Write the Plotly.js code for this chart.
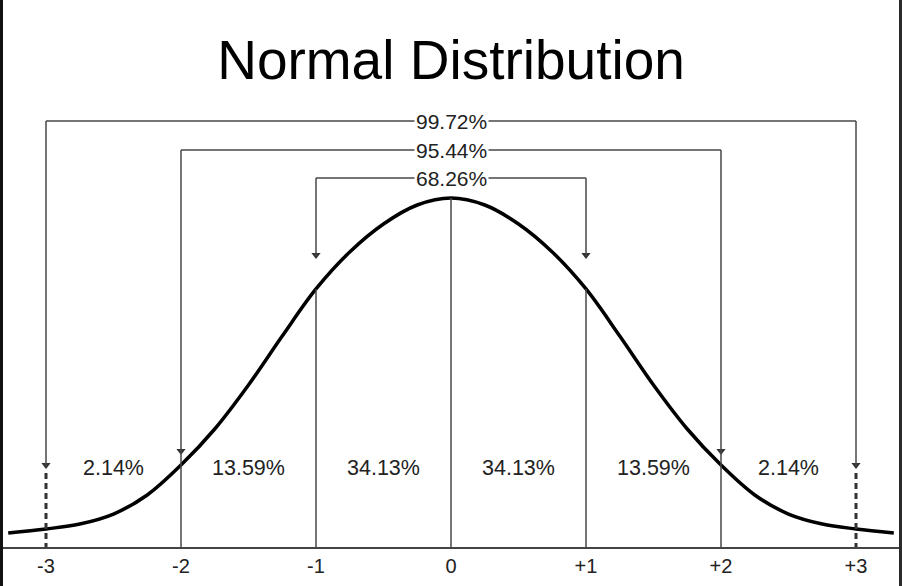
<!DOCTYPE html>
<html>
<head>
<meta charset="utf-8">
<script src="https://cdn.plot.ly/plotly-3.0.1.min.js"></script>
<style>html,body{margin:0;padding:0;background:#fff;}#chart{width:902px;height:586px;}</style>
</head>
<body>
<div id="chart"></div>
<script>
// ---- data ----
const sigmaTicks = [-3, -2, -1, 0, 1, 2, 3];
const tickLabels = ['-3', '-2', '-1', '0', '+1', '+2', '+3'];
const curveX = [-3.28, -3.0, -2.75, -2.5, -2.25, -2.0, -1.75, -1.5, -1.25, -1.0, -0.75, -0.5, -0.25, 0,
                0.25, 0.5, 0.75, 1.0, 1.25, 1.5, 1.75, 2.0, 2.25, 2.5, 2.75, 3.0, 3.28];
const curveY = [0.0160, 0.0206, 0.0263, 0.0377, 0.0595, 0.0937, 0.1349, 0.1852, 0.2412, 0.2950, 0.3373, 0.3693, 0.3910, 0.3990,
                0.3910, 0.3693, 0.3373, 0.2950, 0.2412, 0.1852, 0.1349, 0.0937, 0.0595, 0.0377, 0.0263, 0.0206, 0.0160];
const regionCenters = [-2.5, -1.5, -0.5, 0.5, 1.5, 2.5];
const regionLabels = ['2.14%', '13.59%', '34.13%', '34.13%', '13.59%', '2.14%'];
const bracketSpans = [1, 2, 3];
const bracketLabels = ['68.26%', '95.44%', '99.72%'];

// ---- layout helpers ----
const PLOT_H = 547;              // pixel height of plot area
const K = 0.399 / 349;           // data units per pixel
const yPx = p => (PLOT_H - p) * K;   // pixel row -> data y
const XMAX = 451 / 135;
const FONT = 'Liberation Sans, Arial, sans-serif';

function curveAt(x) {
  for (let i = 0; i < curveX.length - 1; i++) {
    if (x >= curveX[i] && x <= curveX[i + 1]) {
      const t = (x - curveX[i]) / (curveX[i + 1] - curveX[i]);
      return curveY[i] + t * (curveY[i + 1] - curveY[i]);
    }
  }
  return 0;
}

const bracketRow = {1: 178, 2: 150, 3: 121};
const tipRow = {1: 259, 2: 455, 3: 469};
const lineCol = '#474747';

const shapes = [];
const tipsX = [], tipsY = [];
bracketSpans.forEach(s => {
  const yb = yPx(bracketRow[s]);
  shapes.push({type: 'line', xref: 'x', yref: 'y', x0: -s, x1: s, y0: yb, y1: yb,
    line: {color: lineCol, width: 1.5}});
  [-s, s].forEach(x => {
    const yEnd = (s === 2) ? 0 : yPx(tipRow[s] - 3);
    shapes.push({type: 'line', xref: 'x', yref: 'y', x0: x, x1: x, y0: yb, y1: yEnd,
      line: {color: lineCol, width: 1.5}});
    tipsX.push(x); tipsY.push(yPx(tipRow[s] - 4));
  });
});
[-1, 0, 1].forEach(x => {
  shapes.push({type: 'line', xref: 'x', yref: 'y', x0: x, x1: x, y0: curveAt(x), y1: 0,
    line: {color: lineCol, width: 1.5}});
});
[-3, 3].forEach(x => {
  shapes.push({type: 'line', xref: 'x', yref: 'y', x0: x, x1: x, y0: yPx(473), y1: 0,
    line: {color: '#333', width: 3, dash: '6px,4px'}});
});
shapes.push({type: 'rect', xref: 'paper', yref: 'paper', x0: 0, x1: 3 / 902, y0: -39 / 547, y1: 1,
  fillcolor: '#111', line: {width: 0}});
shapes.push({type: 'rect', xref: 'paper', yref: 'paper', x0: 899 / 902, x1: 1, y0: -39 / 547, y1: 1,
  fillcolor: '#2a2a2a', line: {width: 0}});

const annotations = [];
regionCenters.forEach((c, i) => {
  annotations.push({x: c, y: yPx(468), xref: 'x', yref: 'y', text: regionLabels[i], showarrow: false,
    font: {family: FONT, size: 21.5, color: '#222'}});
});
bracketSpans.forEach((s, i) => {
  annotations.push({x: 0, y: yPx(bracketRow[s]), xref: 'x', yref: 'y', text: bracketLabels[i], showarrow: false,
    bgcolor: '#fff', borderpad: 1,
    font: {family: FONT, size: 21, color: '#222'}});
});

const traces = [
  {x: curveX, y: curveY, type: 'scatter', mode: 'lines', line: {color: '#000', width: 3.5, shape: 'spline', smoothing: 1},
   hoverinfo: 'skip'},
  {x: tipsX, y: tipsY, type: 'scatter', mode: 'markers', marker: {symbol: 'triangle-down', size: 8, color: '#333'},
   hoverinfo: 'skip'}
];

const layout = {
  width: 902, height: 586,
  margin: {l: 0, r: 0, t: 0, b: 39},
  paper_bgcolor: '#fff', plot_bgcolor: '#fff',
  showlegend: false,
  title: {text: 'Normal Distribution', x: 0.5, xanchor: 'center', y: 1 - 60 / 586, yanchor: 'middle',
    font: {family: FONT, size: 55, color: '#000'}},
  xaxis: {range: [-XMAX, XMAX], tickvals: sigmaTicks, ticktext: tickLabels, showgrid: false, zeroline: false,
    showline: true, linecolor: '#444', linewidth: 1.5, ticks: '',
    tickfont: {family: FONT, size: 20, color: '#222'}},
  yaxis: {range: [0, PLOT_H * K], visible: false, showgrid: false, zeroline: false},
  shapes: shapes,
  annotations: annotations
};

Plotly.newPlot('chart', traces, layout, {displayModeBar: false, staticPlot: true});
</script>
</body>
</html>
